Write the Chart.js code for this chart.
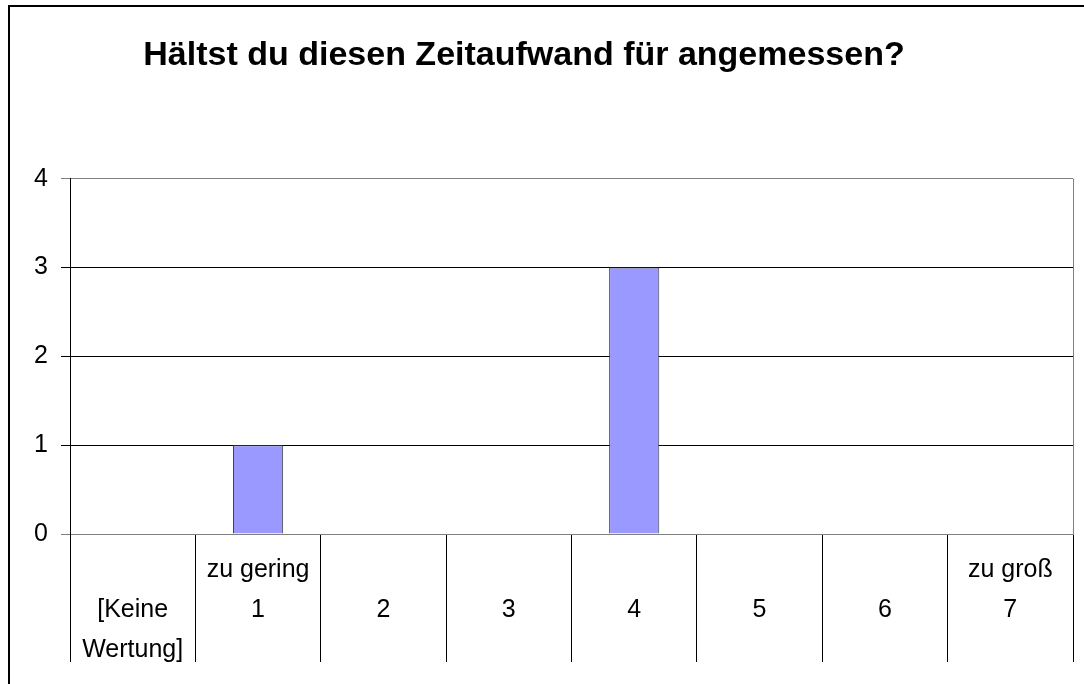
<!DOCTYPE html>
<html>
<head>
<meta charset="utf-8">
<script src="https://cdn.jsdelivr.net/npm/chart.js@4.4.1/dist/chart.umd.min.js"></script>
<style>
    html, body { margin: 0; padding: 0; background: #fff; overflow: hidden; }
    #Rahmen { position: absolute; left: 8px; top: 5px; width: 1100px; height: 700px; border-left: 2px solid #000; border-top: 2px solid #000; pointer-events: none; }
    #ChartZeitaufwand { position: absolute; left: 0; top: 0; }
</style>
</head>
<body>
<canvas id="ChartZeitaufwand" width="1084" height="684"></canvas>
<div id="Rahmen"></div>
<script>
const Titel = 'Hältst du diesen Zeitaufwand für angemessen?';
const Kategorien = [
    ['', '[Keine', 'Wertung]'],
    ['zu gering', '1', ''],
    ['', '2', ''],
    ['', '3', ''],
    ['', '4', ''],
    ['', '5', ''],
    ['', '6', ''],
    ['zu groß', '7', '']
];
const Anzahl = [0, 1, 0, 0, 3, 0, 0, 0];
const YMin = 0;
const YMax = 4;

const Fuente = '"Liberation Sans", Arial, sans-serif';

// rechte Kante der Zeichenfläche (grau)
const RandRechts = {
    id: 'randRechts',
    afterDraw: (chart) => {
        const a = chart.chartArea;
        const ctx = chart.ctx;
        ctx.save();
        ctx.strokeStyle = '#808080';
        ctx.lineWidth = 1;
        ctx.beginPath();
        ctx.moveTo(Math.round(a.right) + 0.5, a.top);
        ctx.lineTo(Math.round(a.right) + 0.5, a.bottom);
        ctx.stroke();
        ctx.restore();
    }
};

var ctxZeitaufwand = null;
var ChartZeitaufwand = null;

const InitGrafZeitaufwand = () => {

    ctxZeitaufwand = document.getElementById('ChartZeitaufwand');
    ChartZeitaufwand = new Chart(ctxZeitaufwand, {
        type: 'bar',
        data: {
            labels: Kategorien,
            datasets: [{
                label: 'Anzahl',
                data: Anzahl,
                backgroundColor: '#9999ff',
                borderColor: '#444444',
                borderWidth: 1,
                barPercentage: 0.4,
                categoryPercentage: 1
            }]
        },
        options: {
            responsive: false,
            animation: false,
            layout: {
                padding: { left: -25, right: 11, top: 0, bottom: 22 }
            },
            plugins: {
                legend: { display: false },
                tooltip: { enabled: false },
                title: {
                    display: true,
                    text: Titel,
                    color: '#000',
                    font: { family: Fuente, size: 34, weight: 'bold', lineHeight: 1.2 },
                    padding: { top: 35, bottom: 103 }
                }
            },
            scales: {
                x: {
                    afterFit: (s) => { s.height = 128; },
                    grid: {
                        display: true,
                        offset: true,
                        drawOnChartArea: false,
                        drawTicks: true,
                        tickLength: 128,
                        color: '#000'
                    },
                    border: { display: true, color: '#808080' },
                    ticks: {
                        color: '#000',
                        padding: -112,
                        maxRotation: 0,
                        autoSkip: false,
                        font: { family: Fuente, size: 25, lineHeight: 40 / 25 }
                    }
                },
                y: {
                    min: YMin,
                    max: YMax,
                    afterFit: (s) => { s.width = 95; },
                    grid: {
                        color: (c) => (c.tick && (c.tick.value === YMax || c.tick.value === YMin)) ? '#808080' : '#000',
                        tickLength: 9
                    },
                    border: { display: true, color: '#000' },
                    ticks: {
                        stepSize: 1,
                        color: '#000',
                        padding: 13,
                        font: { family: Fuente, size: 25 }
                    }
                }
            }
        },
        plugins: [RandRechts]
    });

}

InitGrafZeitaufwand();
</script>
</body>
</html>
